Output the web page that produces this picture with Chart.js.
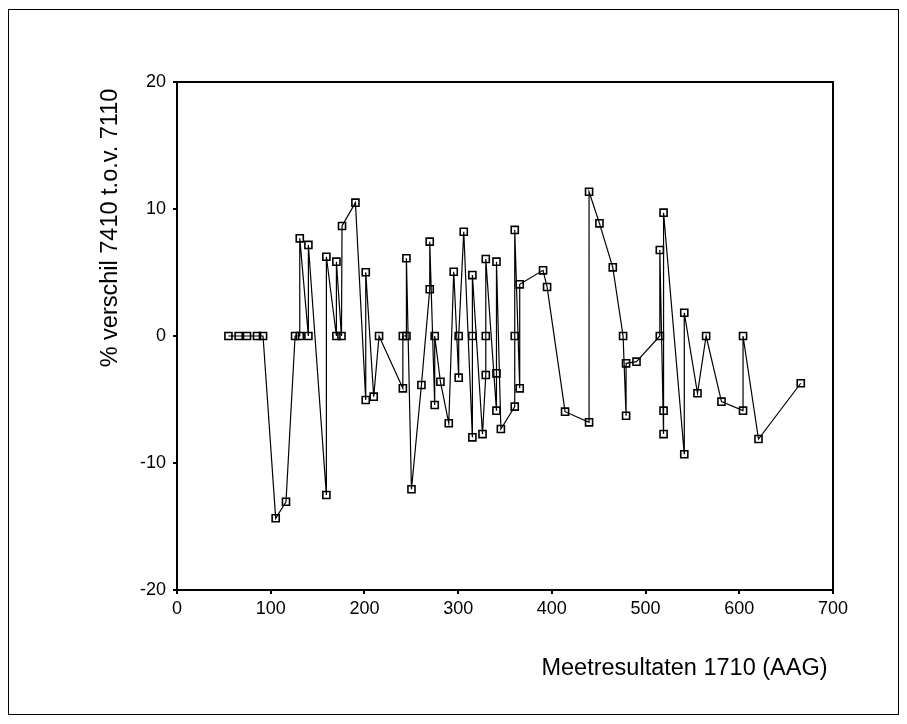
<!DOCTYPE html>
<html>
<head>
<meta charset="utf-8">
<script src="https://cdn.jsdelivr.net/npm/chart.js@4.4.1/dist/chart.umd.min.js"></script>
<style>
  html, body { margin: 0; padding: 0; background: #fff; }
  #wrap { width: 907px; height: 724px; position: relative; }
</style>
</head>
<body>
<div id="wrap"><canvas id="c" width="907" height="724"></canvas></div>
<script>
// Meetresultaten 1710 (AAG) per meting, in meetvolgorde
const meet1710 = [
  54.9, 65.8, 74.7, 85.4, 91.8, 105.3, 116.3, 126, 131, 131,
  140.2, 140.2, 159.4, 159.4, 170.1, 170.1, 175.5, 176.1, 190.4, 201.4,
  201.4, 209.9, 215.6, 241, 241, 244.8, 244.8, 250.2, 260.8, 269.7,
  269.7, 275, 275, 281.1, 290, 295.3, 300.6, 300.6, 306, 315.2,
  315.2, 315.2, 326, 329.5, 329.5, 329.5, 340.9, 340.9, 340.9, 345.6,
  360.4, 360.4, 360.4, 365.7, 365.7, 390.6, 394.9, 414.1, 439.7, 439.7,
  450.8, 465, 476, 479.2, 479.2, 490.3, 515.2, 515.2, 519.2, 519.2,
  519.2, 541.3, 541.3, 555.4, 564.6, 581, 604, 604, 620.5, 665.6
];

// % verschil 7410 t.o.v. 7110
const verschil = [
  0, 0, 0, 0, 0, -14.35, -13.05, 0, 0, 7.69,
  0, 7.17, -12.52, 6.24, 0, 5.85, 0, 8.66, 10.5, -5.04,
  5.02, -4.78, 0, -4.12, 0, 0, 6.12, -12.07, -3.86, 3.68,
  7.43, -5.43, 0, -3.6, -6.87, 5.06, -3.28, 0, 8.21, -7.98,
  0, 4.8, -7.72, -3.07, 0, 6.06, -5.88, -2.94, 5.85, -7.32,
  -5.56, 0, 8.35, -4.12, 4.07, 5.17, 3.86, -5.96, -6.8, 11.36,
  8.87, 5.41, 0, -6.28, -2.15, -2.02, 0, 6.77, -7.72, -5.88,
  9.71, -9.31, 1.83, -4.51, 0, -5.17, -5.88, 0, -8.11, -3.72
];

const xTicks = [0, 100, 200, 300, 400, 500, 600, 700];
const yTicks = [-20, -10, 0, 10, 20];

const xTitle = 'Meetresultaten 1710 (AAG)';
const yTitle = '% verschil 7410 t.o.v. 7110';

const points = meet1710.map((x, i) => ({ x: x, y: verschil[i] }));

const FONT = '"Liberation Sans", Arial, Helvetica, sans-serif';

// Frame around the plot area, outer page frame and the two axis titles
const framePlugin = {
  id: 'frame',
  beforeDraw(chart) {
    const ctx = chart.ctx;
    ctx.save();
    ctx.fillStyle = '#fff';
    ctx.fillRect(0, 0, chart.width, chart.height);
    ctx.strokeStyle = '#000';
    ctx.lineWidth = 1;
    ctx.strokeRect(8.5, 9.5, 890, 705);
    ctx.restore();
  },
  afterDraw(chart) {
    const ctx = chart.ctx;
    const a = chart.chartArea;
    ctx.save();
    ctx.strokeStyle = '#000';
    ctx.lineWidth = 2;
    ctx.beginPath();
    ctx.moveTo(a.left, a.top);
    ctx.lineTo(a.right, a.top);
    ctx.lineTo(a.right, a.bottom);
    ctx.stroke();

    ctx.fillStyle = '#000';
    ctx.font = '23.5px ' + FONT;
    ctx.textBaseline = 'middle';
    ctx.textAlign = 'center';
    ctx.fillText(xTitle, 684.5, 669);

    ctx.translate(111, 228);
    ctx.rotate(-Math.PI / 2);
    ctx.fillText(yTitle, 0, 0);
    ctx.restore();
  }
};

new Chart(document.getElementById('c'), {
  type: 'scatter',
  data: {
    datasets: [{
      data: points,
      showLine: true,
      tension: 0,
      borderColor: '#000',
      borderWidth: 1.2,
      pointStyle: 'rect',
      pointRadius: 5,
      pointBorderWidth: 1.6,
      pointBorderColor: '#000',
      pointBackgroundColor: 'rgba(255,255,255,0)'
    }]
  },
  options: {
    responsive: false,
    animation: false,
    layout: { padding: { top: 82, right: 74, left: 0, bottom: 0 } },
    plugins: { legend: { display: false }, tooltip: { enabled: false } },
    scales: {
      x: {
        type: 'linear',
        min: 0,
        max: 700,
        afterBuildTicks(s) { s.ticks = xTicks.map(v => ({ value: v })); },
        afterFit(s) { s.height = 134; },
        ticks: { color: '#000', padding: 4, font: { size: 18, family: FONT } },
        grid: { drawOnChartArea: false, drawTicks: true, tickLength: 4, color: '#000', lineWidth: 2 },
        border: { color: '#000', width: 2 }
      },
      y: {
        type: 'linear',
        min: -20,
        max: 20,
        afterBuildTicks(s) { s.ticks = yTicks.map(v => ({ value: v })); },
        afterFit(s) { s.width = 177; },
        ticks: { color: '#000', padding: 7, font: { size: 18, family: FONT } },
        grid: { drawOnChartArea: false, drawTicks: true, tickLength: 4, color: '#000', lineWidth: 2 },
        border: { color: '#000', width: 2 }
      }
    }
  },
  plugins: [framePlugin]
});
</script>
</body>
</html>
